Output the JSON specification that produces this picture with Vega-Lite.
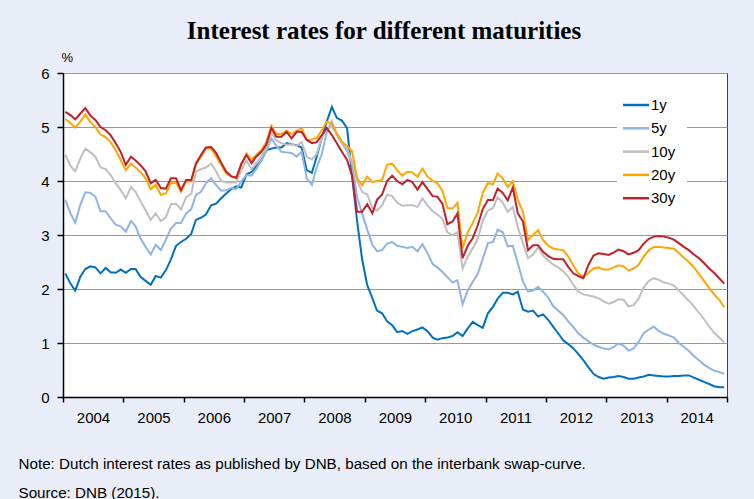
{
"$schema":"https://vega.github.io/schema/vega-lite/v6.json",
"width":664,"height":324,
"autosize":{"type":"none"},
"padding":{"left":63,"top":73,"right":27,"bottom":102},
"background":"#E9EDF8",
"config":{"view":{"fill":"white","stroke":"#404040","strokeWidth":1},"font":"Liberation Sans"},
"title":{"text":"Interest rates for different maturities","font":"Liberation Serif","fontSize":25,"fontWeight":"bold","color":"black","anchor":"middle","dx":-11,"dy":21,"offset":8,"baseline":"alphabetic"},
"data":{"values":[
{"t":"2004-01-15","s":"1y","v":2.29},{"t":"2004-02-15","s":"1y","v":2.10},{"t":"2004-03-15","s":"1y","v":1.97},{"t":"2004-04-15","s":"1y","v":2.23},{"t":"2004-05-15","s":"1y","v":2.37},{"t":"2004-06-15","s":"1y","v":2.42},{"t":"2004-07-15","s":"1y","v":2.40},{"t":"2004-08-15","s":"1y","v":2.29},{"t":"2004-09-15","s":"1y","v":2.39},{"t":"2004-10-15","s":"1y","v":2.31},{"t":"2004-11-15","s":"1y","v":2.30},{"t":"2004-12-15","s":"1y","v":2.36},
{"t":"2005-01-15","s":"1y","v":2.30},{"t":"2005-02-15","s":"1y","v":2.37},{"t":"2005-03-15","s":"1y","v":2.37},{"t":"2005-04-15","s":"1y","v":2.22},{"t":"2005-05-15","s":"1y","v":2.15},{"t":"2005-06-15","s":"1y","v":2.08},{"t":"2005-07-15","s":"1y","v":2.24},{"t":"2005-08-15","s":"1y","v":2.21},{"t":"2005-09-15","s":"1y","v":2.35},{"t":"2005-10-15","s":"1y","v":2.55},{"t":"2005-11-15","s":"1y","v":2.80},{"t":"2005-12-15","s":"1y","v":2.87},
{"t":"2006-01-15","s":"1y","v":2.93},{"t":"2006-02-15","s":"1y","v":3.02},{"t":"2006-03-15","s":"1y","v":3.28},{"t":"2006-04-15","s":"1y","v":3.32},{"t":"2006-05-15","s":"1y","v":3.38},{"t":"2006-06-15","s":"1y","v":3.55},{"t":"2006-07-15","s":"1y","v":3.58},{"t":"2006-08-15","s":"1y","v":3.68},{"t":"2006-09-15","s":"1y","v":3.77},{"t":"2006-10-15","s":"1y","v":3.85},{"t":"2006-11-15","s":"1y","v":3.90},{"t":"2006-12-15","s":"1y","v":3.88},
{"t":"2007-01-15","s":"1y","v":4.12},{"t":"2007-02-15","s":"1y","v":4.17},{"t":"2007-03-15","s":"1y","v":4.27},{"t":"2007-04-15","s":"1y","v":4.38},{"t":"2007-05-15","s":"1y","v":4.57},{"t":"2007-06-15","s":"1y","v":4.60},{"t":"2007-07-15","s":"1y","v":4.62},{"t":"2007-08-15","s":"1y","v":4.62},{"t":"2007-09-15","s":"1y","v":4.70},{"t":"2007-10-15","s":"1y","v":4.68},{"t":"2007-11-15","s":"1y","v":4.66},{"t":"2007-12-15","s":"1y","v":4.62},
{"t":"2008-01-15","s":"1y","v":4.20},{"t":"2008-02-15","s":"1y","v":4.15},{"t":"2008-03-15","s":"1y","v":4.45},{"t":"2008-04-15","s":"1y","v":4.80},{"t":"2008-05-15","s":"1y","v":5.10},{"t":"2008-06-15","s":"1y","v":5.37},{"t":"2008-07-15","s":"1y","v":5.17},{"t":"2008-08-15","s":"1y","v":5.12},{"t":"2008-09-15","s":"1y","v":4.98},{"t":"2008-10-15","s":"1y","v":4.10},{"t":"2008-11-15","s":"1y","v":3.25},{"t":"2008-12-15","s":"1y","v":2.55},
{"t":"2009-01-15","s":"1y","v":2.07},{"t":"2009-02-15","s":"1y","v":1.83},{"t":"2009-03-15","s":"1y","v":1.60},{"t":"2009-04-15","s":"1y","v":1.55},{"t":"2009-05-15","s":"1y","v":1.40},{"t":"2009-06-15","s":"1y","v":1.33},{"t":"2009-07-15","s":"1y","v":1.20},{"t":"2009-08-15","s":"1y","v":1.22},{"t":"2009-09-15","s":"1y","v":1.17},{"t":"2009-10-15","s":"1y","v":1.22},{"t":"2009-11-15","s":"1y","v":1.25},{"t":"2009-12-15","s":"1y","v":1.29},
{"t":"2010-01-15","s":"1y","v":1.22},{"t":"2010-02-15","s":"1y","v":1.10},{"t":"2010-03-15","s":"1y","v":1.06},{"t":"2010-04-15","s":"1y","v":1.09},{"t":"2010-05-15","s":"1y","v":1.10},{"t":"2010-06-15","s":"1y","v":1.13},{"t":"2010-07-15","s":"1y","v":1.20},{"t":"2010-08-15","s":"1y","v":1.13},{"t":"2010-09-15","s":"1y","v":1.27},{"t":"2010-10-15","s":"1y","v":1.39},{"t":"2010-11-15","s":"1y","v":1.33},{"t":"2010-12-15","s":"1y","v":1.28},
{"t":"2011-01-15","s":"1y","v":1.55},{"t":"2011-02-15","s":"1y","v":1.67},{"t":"2011-03-15","s":"1y","v":1.82},{"t":"2011-04-15","s":"1y","v":1.93},{"t":"2011-05-15","s":"1y","v":1.93},{"t":"2011-06-15","s":"1y","v":1.90},{"t":"2011-07-15","s":"1y","v":1.95},{"t":"2011-08-15","s":"1y","v":1.62},{"t":"2011-09-15","s":"1y","v":1.58},{"t":"2011-10-15","s":"1y","v":1.60},{"t":"2011-11-15","s":"1y","v":1.49},{"t":"2011-12-15","s":"1y","v":1.53},
{"t":"2012-01-15","s":"1y","v":1.43},{"t":"2012-02-15","s":"1y","v":1.30},{"t":"2012-03-15","s":"1y","v":1.18},{"t":"2012-04-15","s":"1y","v":1.05},{"t":"2012-05-15","s":"1y","v":0.98},{"t":"2012-06-15","s":"1y","v":0.90},{"t":"2012-07-15","s":"1y","v":0.80},{"t":"2012-08-15","s":"1y","v":0.68},{"t":"2012-09-15","s":"1y","v":0.55},{"t":"2012-10-15","s":"1y","v":0.43},{"t":"2012-11-15","s":"1y","v":0.37},{"t":"2012-12-15","s":"1y","v":0.34},
{"t":"2013-01-15","s":"1y","v":0.36},{"t":"2013-02-15","s":"1y","v":0.37},{"t":"2013-03-15","s":"1y","v":0.39},{"t":"2013-04-15","s":"1y","v":0.37},{"t":"2013-05-15","s":"1y","v":0.34},{"t":"2013-06-15","s":"1y","v":0.34},{"t":"2013-07-15","s":"1y","v":0.36},{"t":"2013-08-15","s":"1y","v":0.38},{"t":"2013-09-15","s":"1y","v":0.41},{"t":"2013-10-15","s":"1y","v":0.40},{"t":"2013-11-15","s":"1y","v":0.39},{"t":"2013-12-15","s":"1y","v":0.38},
{"t":"2014-01-15","s":"1y","v":0.38},{"t":"2014-02-15","s":"1y","v":0.39},{"t":"2014-03-15","s":"1y","v":0.39},{"t":"2014-04-15","s":"1y","v":0.40},{"t":"2014-05-15","s":"1y","v":0.40},{"t":"2014-06-15","s":"1y","v":0.36},{"t":"2014-07-15","s":"1y","v":0.32},{"t":"2014-08-15","s":"1y","v":0.28},{"t":"2014-09-15","s":"1y","v":0.24},{"t":"2014-10-15","s":"1y","v":0.20},{"t":"2014-11-15","s":"1y","v":0.18},{"t":"2014-12-15","s":"1y","v":0.18},
{"t":"2004-01-15","s":"5y","v":3.65},{"t":"2004-02-15","s":"5y","v":3.40},{"t":"2004-03-15","s":"5y","v":3.23},{"t":"2004-04-15","s":"5y","v":3.56},{"t":"2004-05-15","s":"5y","v":3.79},{"t":"2004-06-15","s":"5y","v":3.78},{"t":"2004-07-15","s":"5y","v":3.71},{"t":"2004-08-15","s":"5y","v":3.44},{"t":"2004-09-15","s":"5y","v":3.44},{"t":"2004-10-15","s":"5y","v":3.31},{"t":"2004-11-15","s":"5y","v":3.19},{"t":"2004-12-15","s":"5y","v":3.16},
{"t":"2005-01-15","s":"5y","v":3.06},{"t":"2005-02-15","s":"5y","v":3.26},{"t":"2005-03-15","s":"5y","v":3.16},{"t":"2005-04-15","s":"5y","v":2.93},{"t":"2005-05-15","s":"5y","v":2.78},{"t":"2005-06-15","s":"5y","v":2.64},{"t":"2005-07-15","s":"5y","v":2.82},{"t":"2005-08-15","s":"5y","v":2.72},{"t":"2005-09-15","s":"5y","v":2.92},{"t":"2005-10-15","s":"5y","v":3.12},{"t":"2005-11-15","s":"5y","v":3.22},{"t":"2005-12-15","s":"5y","v":3.22},
{"t":"2006-01-15","s":"5y","v":3.40},{"t":"2006-02-15","s":"5y","v":3.48},{"t":"2006-03-15","s":"5y","v":3.74},{"t":"2006-04-15","s":"5y","v":3.80},{"t":"2006-05-15","s":"5y","v":3.96},{"t":"2006-06-15","s":"5y","v":4.05},{"t":"2006-07-15","s":"5y","v":3.93},{"t":"2006-08-15","s":"5y","v":3.82},{"t":"2006-09-15","s":"5y","v":3.83},{"t":"2006-10-15","s":"5y","v":3.87},{"t":"2006-11-15","s":"5y","v":3.85},{"t":"2006-12-15","s":"5y","v":4.00},
{"t":"2007-01-15","s":"5y","v":4.11},{"t":"2007-02-15","s":"5y","v":4.10},{"t":"2007-03-15","s":"5y","v":4.22},{"t":"2007-04-15","s":"5y","v":4.38},{"t":"2007-05-15","s":"5y","v":4.55},{"t":"2007-06-15","s":"5y","v":4.79},{"t":"2007-07-15","s":"5y","v":4.65},{"t":"2007-08-15","s":"5y","v":4.54},{"t":"2007-09-15","s":"5y","v":4.53},{"t":"2007-10-15","s":"5y","v":4.52},{"t":"2007-11-15","s":"5y","v":4.45},{"t":"2007-12-15","s":"5y","v":4.54},
{"t":"2008-01-15","s":"5y","v":4.05},{"t":"2008-02-15","s":"5y","v":3.93},{"t":"2008-03-15","s":"5y","v":4.25},{"t":"2008-04-15","s":"5y","v":4.50},{"t":"2008-05-15","s":"5y","v":4.90},{"t":"2008-06-15","s":"5y","v":5.10},{"t":"2008-07-15","s":"5y","v":4.85},{"t":"2008-08-15","s":"5y","v":4.70},{"t":"2008-09-15","s":"5y","v":4.55},{"t":"2008-10-15","s":"5y","v":4.30},{"t":"2008-11-15","s":"5y","v":3.70},{"t":"2008-12-15","s":"5y","v":3.40},
{"t":"2009-01-15","s":"5y","v":3.10},{"t":"2009-02-15","s":"5y","v":2.82},{"t":"2009-03-15","s":"5y","v":2.70},{"t":"2009-04-15","s":"5y","v":2.72},{"t":"2009-05-15","s":"5y","v":2.84},{"t":"2009-06-15","s":"5y","v":2.87},{"t":"2009-07-15","s":"5y","v":2.80},{"t":"2009-08-15","s":"5y","v":2.78},{"t":"2009-09-15","s":"5y","v":2.76},{"t":"2009-10-15","s":"5y","v":2.78},{"t":"2009-11-15","s":"5y","v":2.70},{"t":"2009-12-15","s":"5y","v":2.83},
{"t":"2010-01-15","s":"5y","v":2.66},{"t":"2010-02-15","s":"5y","v":2.46},{"t":"2010-03-15","s":"5y","v":2.40},{"t":"2010-04-15","s":"5y","v":2.32},{"t":"2010-05-15","s":"5y","v":2.22},{"t":"2010-06-15","s":"5y","v":2.12},{"t":"2010-07-15","s":"5y","v":2.16},{"t":"2010-08-15","s":"5y","v":1.72},{"t":"2010-09-15","s":"5y","v":1.97},{"t":"2010-10-15","s":"5y","v":2.13},{"t":"2010-11-15","s":"5y","v":2.28},{"t":"2010-12-15","s":"5y","v":2.56},
{"t":"2011-01-15","s":"5y","v":2.85},{"t":"2011-02-15","s":"5y","v":2.87},{"t":"2011-03-15","s":"5y","v":3.10},{"t":"2011-04-15","s":"5y","v":3.05},{"t":"2011-05-15","s":"5y","v":2.79},{"t":"2011-06-15","s":"5y","v":2.80},{"t":"2011-07-15","s":"5y","v":2.48},{"t":"2011-08-15","s":"5y","v":2.14},{"t":"2011-09-15","s":"5y","v":1.95},{"t":"2011-10-15","s":"5y","v":1.97},{"t":"2011-11-15","s":"5y","v":2.04},{"t":"2011-12-15","s":"5y","v":1.95},
{"t":"2012-01-15","s":"5y","v":1.84},{"t":"2012-02-15","s":"5y","v":1.68},{"t":"2012-03-15","s":"5y","v":1.60},{"t":"2012-04-15","s":"5y","v":1.52},{"t":"2012-05-15","s":"5y","v":1.40},{"t":"2012-06-15","s":"5y","v":1.30},{"t":"2012-07-15","s":"5y","v":1.18},{"t":"2012-08-15","s":"5y","v":1.10},{"t":"2012-09-15","s":"5y","v":1.03},{"t":"2012-10-15","s":"5y","v":0.97},{"t":"2012-11-15","s":"5y","v":0.93},{"t":"2012-12-15","s":"5y","v":0.90},
{"t":"2013-01-15","s":"5y","v":0.88},{"t":"2013-02-15","s":"5y","v":0.93},{"t":"2013-03-15","s":"5y","v":0.99},{"t":"2013-04-15","s":"5y","v":0.95},{"t":"2013-05-15","s":"5y","v":0.86},{"t":"2013-06-15","s":"5y","v":0.90},{"t":"2013-07-15","s":"5y","v":1.02},{"t":"2013-08-15","s":"5y","v":1.18},{"t":"2013-09-15","s":"5y","v":1.25},{"t":"2013-10-15","s":"5y","v":1.30},{"t":"2013-11-15","s":"5y","v":1.22},{"t":"2013-12-15","s":"5y","v":1.17},
{"t":"2014-01-15","s":"5y","v":1.14},{"t":"2014-02-15","s":"5y","v":1.10},{"t":"2014-03-15","s":"5y","v":1.00},{"t":"2014-04-15","s":"5y","v":0.93},{"t":"2014-05-15","s":"5y","v":0.85},{"t":"2014-06-15","s":"5y","v":0.76},{"t":"2014-07-15","s":"5y","v":0.68},{"t":"2014-08-15","s":"5y","v":0.60},{"t":"2014-09-15","s":"5y","v":0.54},{"t":"2014-10-15","s":"5y","v":0.49},{"t":"2014-11-15","s":"5y","v":0.46},{"t":"2014-12-15","s":"5y","v":0.43},
{"t":"2004-01-15","s":"10y","v":4.49},{"t":"2004-02-15","s":"10y","v":4.28},{"t":"2004-03-15","s":"10y","v":4.18},{"t":"2004-04-15","s":"10y","v":4.42},{"t":"2004-05-15","s":"10y","v":4.60},{"t":"2004-06-15","s":"10y","v":4.53},{"t":"2004-07-15","s":"10y","v":4.45},{"t":"2004-08-15","s":"10y","v":4.25},{"t":"2004-09-15","s":"10y","v":4.22},{"t":"2004-10-15","s":"10y","v":4.11},{"t":"2004-11-15","s":"10y","v":3.96},{"t":"2004-12-15","s":"10y","v":3.83},
{"t":"2005-01-15","s":"10y","v":3.68},{"t":"2005-02-15","s":"10y","v":3.89},{"t":"2005-03-15","s":"10y","v":3.80},{"t":"2005-04-15","s":"10y","v":3.62},{"t":"2005-05-15","s":"10y","v":3.46},{"t":"2005-06-15","s":"10y","v":3.28},{"t":"2005-07-15","s":"10y","v":3.40},{"t":"2005-08-15","s":"10y","v":3.26},{"t":"2005-09-15","s":"10y","v":3.33},{"t":"2005-10-15","s":"10y","v":3.57},{"t":"2005-11-15","s":"10y","v":3.58},{"t":"2005-12-15","s":"10y","v":3.47},
{"t":"2006-01-15","s":"10y","v":3.70},{"t":"2006-02-15","s":"10y","v":3.76},{"t":"2006-03-15","s":"10y","v":4.17},{"t":"2006-04-15","s":"10y","v":4.22},{"t":"2006-05-15","s":"10y","v":4.25},{"t":"2006-06-15","s":"10y","v":4.32},{"t":"2006-07-15","s":"10y","v":4.18},{"t":"2006-08-15","s":"10y","v":4.00},{"t":"2006-09-15","s":"10y","v":3.97},{"t":"2006-10-15","s":"10y","v":3.97},{"t":"2006-11-15","s":"10y","v":3.97},{"t":"2006-12-15","s":"10y","v":4.20},
{"t":"2007-01-15","s":"10y","v":4.38},{"t":"2007-02-15","s":"10y","v":4.22},{"t":"2007-03-15","s":"10y","v":4.33},{"t":"2007-04-15","s":"10y","v":4.45},{"t":"2007-05-15","s":"10y","v":4.62},{"t":"2007-06-15","s":"10y","v":4.90},{"t":"2007-07-15","s":"10y","v":4.75},{"t":"2007-08-15","s":"10y","v":4.70},{"t":"2007-09-15","s":"10y","v":4.67},{"t":"2007-10-15","s":"10y","v":4.68},{"t":"2007-11-15","s":"10y","v":4.65},{"t":"2007-12-15","s":"10y","v":4.72},
{"t":"2008-01-15","s":"10y","v":4.45},{"t":"2008-02-15","s":"10y","v":4.40},{"t":"2008-03-15","s":"10y","v":4.50},{"t":"2008-04-15","s":"10y","v":4.80},{"t":"2008-05-15","s":"10y","v":4.98},{"t":"2008-06-15","s":"10y","v":5.00},{"t":"2008-07-15","s":"10y","v":4.86},{"t":"2008-08-15","s":"10y","v":4.72},{"t":"2008-09-15","s":"10y","v":4.60},{"t":"2008-10-15","s":"10y","v":4.35},{"t":"2008-11-15","s":"10y","v":4.00},{"t":"2008-12-15","s":"10y","v":3.80},
{"t":"2009-01-15","s":"10y","v":3.75},{"t":"2009-02-15","s":"10y","v":3.50},{"t":"2009-03-15","s":"10y","v":3.45},{"t":"2009-04-15","s":"10y","v":3.55},{"t":"2009-05-15","s":"10y","v":3.75},{"t":"2009-06-15","s":"10y","v":3.72},{"t":"2009-07-15","s":"10y","v":3.60},{"t":"2009-08-15","s":"10y","v":3.54},{"t":"2009-09-15","s":"10y","v":3.55},{"t":"2009-10-15","s":"10y","v":3.55},{"t":"2009-11-15","s":"10y","v":3.52},{"t":"2009-12-15","s":"10y","v":3.68},
{"t":"2010-01-15","s":"10y","v":3.55},{"t":"2010-02-15","s":"10y","v":3.44},{"t":"2010-03-15","s":"10y","v":3.38},{"t":"2010-04-15","s":"10y","v":3.30},{"t":"2010-05-15","s":"10y","v":3.05},{"t":"2010-06-15","s":"10y","v":3.00},{"t":"2010-07-15","s":"10y","v":3.05},{"t":"2010-08-15","s":"10y","v":2.38},{"t":"2010-09-15","s":"10y","v":2.60},{"t":"2010-10-15","s":"10y","v":2.75},{"t":"2010-11-15","s":"10y","v":2.93},{"t":"2010-12-15","s":"10y","v":3.27},
{"t":"2011-01-15","s":"10y","v":3.45},{"t":"2011-02-15","s":"10y","v":3.50},{"t":"2011-03-15","s":"10y","v":3.70},{"t":"2011-04-15","s":"10y","v":3.60},{"t":"2011-05-15","s":"10y","v":3.43},{"t":"2011-06-15","s":"10y","v":3.52},{"t":"2011-07-15","s":"10y","v":3.15},{"t":"2011-08-15","s":"10y","v":2.85},{"t":"2011-09-15","s":"10y","v":2.57},{"t":"2011-10-15","s":"10y","v":2.64},{"t":"2011-11-15","s":"10y","v":2.77},{"t":"2011-12-15","s":"10y","v":2.62},
{"t":"2012-01-15","s":"10y","v":2.53},{"t":"2012-02-15","s":"10y","v":2.45},{"t":"2012-03-15","s":"10y","v":2.40},{"t":"2012-04-15","s":"10y","v":2.33},{"t":"2012-05-15","s":"10y","v":2.23},{"t":"2012-06-15","s":"10y","v":2.08},{"t":"2012-07-15","s":"10y","v":1.95},{"t":"2012-08-15","s":"10y","v":1.90},{"t":"2012-09-15","s":"10y","v":1.88},{"t":"2012-10-15","s":"10y","v":1.86},{"t":"2012-11-15","s":"10y","v":1.83},{"t":"2012-12-15","s":"10y","v":1.77},
{"t":"2013-01-15","s":"10y","v":1.73},{"t":"2013-02-15","s":"10y","v":1.76},{"t":"2013-03-15","s":"10y","v":1.81},{"t":"2013-04-15","s":"10y","v":1.80},{"t":"2013-05-15","s":"10y","v":1.68},{"t":"2013-06-15","s":"10y","v":1.70},{"t":"2013-07-15","s":"10y","v":1.82},{"t":"2013-08-15","s":"10y","v":2.03},{"t":"2013-09-15","s":"10y","v":2.15},{"t":"2013-10-15","s":"10y","v":2.20},{"t":"2013-11-15","s":"10y","v":2.17},{"t":"2013-12-15","s":"10y","v":2.12},
{"t":"2014-01-15","s":"10y","v":2.10},{"t":"2014-02-15","s":"10y","v":2.06},{"t":"2014-03-15","s":"10y","v":1.97},{"t":"2014-04-15","s":"10y","v":1.88},{"t":"2014-05-15","s":"10y","v":1.78},{"t":"2014-06-15","s":"10y","v":1.68},{"t":"2014-07-15","s":"10y","v":1.56},{"t":"2014-08-15","s":"10y","v":1.44},{"t":"2014-09-15","s":"10y","v":1.31},{"t":"2014-10-15","s":"10y","v":1.19},{"t":"2014-11-15","s":"10y","v":1.10},{"t":"2014-12-15","s":"10y","v":1.01},
{"t":"2004-01-15","s":"20y","v":5.15},{"t":"2004-02-15","s":"20y","v":5.07},{"t":"2004-03-15","s":"20y","v":4.99},{"t":"2004-04-15","s":"20y","v":5.10},{"t":"2004-05-15","s":"20y","v":5.23},{"t":"2004-06-15","s":"20y","v":5.09},{"t":"2004-07-15","s":"20y","v":5.00},{"t":"2004-08-15","s":"20y","v":4.86},{"t":"2004-09-15","s":"20y","v":4.81},{"t":"2004-10-15","s":"20y","v":4.72},{"t":"2004-11-15","s":"20y","v":4.57},{"t":"2004-12-15","s":"20y","v":4.39},
{"t":"2005-01-15","s":"20y","v":4.20},{"t":"2005-02-15","s":"20y","v":4.32},{"t":"2005-03-15","s":"20y","v":4.25},{"t":"2005-04-15","s":"20y","v":4.16},{"t":"2005-05-15","s":"20y","v":4.05},{"t":"2005-06-15","s":"20y","v":3.85},{"t":"2005-07-15","s":"20y","v":3.93},{"t":"2005-08-15","s":"20y","v":3.74},{"t":"2005-09-15","s":"20y","v":3.77},{"t":"2005-10-15","s":"20y","v":3.96},{"t":"2005-11-15","s":"20y","v":3.97},{"t":"2005-12-15","s":"20y","v":3.80},
{"t":"2006-01-15","s":"20y","v":3.99},{"t":"2006-02-15","s":"20y","v":3.99},{"t":"2006-03-15","s":"20y","v":4.30},{"t":"2006-04-15","s":"20y","v":4.45},{"t":"2006-05-15","s":"20y","v":4.60},{"t":"2006-06-15","s":"20y","v":4.60},{"t":"2006-07-15","s":"20y","v":4.46},{"t":"2006-08-15","s":"20y","v":4.30},{"t":"2006-09-15","s":"20y","v":4.14},{"t":"2006-10-15","s":"20y","v":4.08},{"t":"2006-11-15","s":"20y","v":4.05},{"t":"2006-12-15","s":"20y","v":4.30},
{"t":"2007-01-15","s":"20y","v":4.51},{"t":"2007-02-15","s":"20y","v":4.39},{"t":"2007-03-15","s":"20y","v":4.48},{"t":"2007-04-15","s":"20y","v":4.57},{"t":"2007-05-15","s":"20y","v":4.72},{"t":"2007-06-15","s":"20y","v":5.02},{"t":"2007-07-15","s":"20y","v":4.87},{"t":"2007-08-15","s":"20y","v":4.87},{"t":"2007-09-15","s":"20y","v":4.93},{"t":"2007-10-15","s":"20y","v":4.87},{"t":"2007-11-15","s":"20y","v":4.93},{"t":"2007-12-15","s":"20y","v":4.98},
{"t":"2008-01-15","s":"20y","v":4.76},{"t":"2008-02-15","s":"20y","v":4.77},{"t":"2008-03-15","s":"20y","v":4.80},{"t":"2008-04-15","s":"20y","v":4.94},{"t":"2008-05-15","s":"20y","v":5.10},{"t":"2008-06-15","s":"20y","v":5.06},{"t":"2008-07-15","s":"20y","v":4.88},{"t":"2008-08-15","s":"20y","v":4.72},{"t":"2008-09-15","s":"20y","v":4.65},{"t":"2008-10-15","s":"20y","v":4.55},{"t":"2008-11-15","s":"20y","v":4.05},{"t":"2008-12-15","s":"20y","v":3.92},
{"t":"2009-01-15","s":"20y","v":4.08},{"t":"2009-02-15","s":"20y","v":3.98},{"t":"2009-03-15","s":"20y","v":4.00},{"t":"2009-04-15","s":"20y","v":4.02},{"t":"2009-05-15","s":"20y","v":4.30},{"t":"2009-06-15","s":"20y","v":4.32},{"t":"2009-07-15","s":"20y","v":4.20},{"t":"2009-08-15","s":"20y","v":4.10},{"t":"2009-09-15","s":"20y","v":4.17},{"t":"2009-10-15","s":"20y","v":4.16},{"t":"2009-11-15","s":"20y","v":4.08},{"t":"2009-12-15","s":"20y","v":4.23},
{"t":"2010-01-15","s":"20y","v":4.08},{"t":"2010-02-15","s":"20y","v":4.00},{"t":"2010-03-15","s":"20y","v":3.96},{"t":"2010-04-15","s":"20y","v":3.82},{"t":"2010-05-15","s":"20y","v":3.50},{"t":"2010-06-15","s":"20y","v":3.49},{"t":"2010-07-15","s":"20y","v":3.60},{"t":"2010-08-15","s":"20y","v":2.75},{"t":"2010-09-15","s":"20y","v":3.05},{"t":"2010-10-15","s":"20y","v":3.22},{"t":"2010-11-15","s":"20y","v":3.42},{"t":"2010-12-15","s":"20y","v":3.78},
{"t":"2011-01-15","s":"20y","v":3.96},{"t":"2011-02-15","s":"20y","v":3.94},{"t":"2011-03-15","s":"20y","v":4.14},{"t":"2011-04-15","s":"20y","v":4.05},{"t":"2011-05-15","s":"20y","v":3.89},{"t":"2011-06-15","s":"20y","v":4.00},{"t":"2011-07-15","s":"20y","v":3.65},{"t":"2011-08-15","s":"20y","v":3.43},{"t":"2011-09-15","s":"20y","v":2.91},{"t":"2011-10-15","s":"20y","v":3.00},{"t":"2011-11-15","s":"20y","v":3.09},{"t":"2011-12-15","s":"20y","v":2.91},
{"t":"2012-01-15","s":"20y","v":2.80},{"t":"2012-02-15","s":"20y","v":2.75},{"t":"2012-03-15","s":"20y","v":2.73},{"t":"2012-04-15","s":"20y","v":2.72},{"t":"2012-05-15","s":"20y","v":2.60},{"t":"2012-06-15","s":"20y","v":2.44},{"t":"2012-07-15","s":"20y","v":2.29},{"t":"2012-08-15","s":"20y","v":2.22},{"t":"2012-09-15","s":"20y","v":2.30},{"t":"2012-10-15","s":"20y","v":2.38},{"t":"2012-11-15","s":"20y","v":2.40},{"t":"2012-12-15","s":"20y","v":2.36},
{"t":"2013-01-15","s":"20y","v":2.36},{"t":"2013-02-15","s":"20y","v":2.40},{"t":"2013-03-15","s":"20y","v":2.44},{"t":"2013-04-15","s":"20y","v":2.42},{"t":"2013-05-15","s":"20y","v":2.34},{"t":"2013-06-15","s":"20y","v":2.38},{"t":"2013-07-15","s":"20y","v":2.45},{"t":"2013-08-15","s":"20y","v":2.60},{"t":"2013-09-15","s":"20y","v":2.72},{"t":"2013-10-15","s":"20y","v":2.78},{"t":"2013-11-15","s":"20y","v":2.78},{"t":"2013-12-15","s":"20y","v":2.77},
{"t":"2014-01-15","s":"20y","v":2.76},{"t":"2014-02-15","s":"20y","v":2.74},{"t":"2014-03-15","s":"20y","v":2.67},{"t":"2014-04-15","s":"20y","v":2.58},{"t":"2014-05-15","s":"20y","v":2.50},{"t":"2014-06-15","s":"20y","v":2.40},{"t":"2014-07-15","s":"20y","v":2.28},{"t":"2014-08-15","s":"20y","v":2.15},{"t":"2014-09-15","s":"20y","v":2.02},{"t":"2014-10-15","s":"20y","v":1.90},{"t":"2014-11-15","s":"20y","v":1.80},{"t":"2014-12-15","s":"20y","v":1.66},
{"t":"2004-01-15","s":"30y","v":5.28},{"t":"2004-02-15","s":"30y","v":5.22},{"t":"2004-03-15","s":"30y","v":5.14},{"t":"2004-04-15","s":"30y","v":5.25},{"t":"2004-05-15","s":"30y","v":5.35},{"t":"2004-06-15","s":"30y","v":5.21},{"t":"2004-07-15","s":"30y","v":5.13},{"t":"2004-08-15","s":"30y","v":5.00},{"t":"2004-09-15","s":"30y","v":4.94},{"t":"2004-10-15","s":"30y","v":4.85},{"t":"2004-11-15","s":"30y","v":4.70},{"t":"2004-12-15","s":"30y","v":4.54},
{"t":"2005-01-15","s":"30y","v":4.30},{"t":"2005-02-15","s":"30y","v":4.45},{"t":"2005-03-15","s":"30y","v":4.38},{"t":"2005-04-15","s":"30y","v":4.29},{"t":"2005-05-15","s":"30y","v":4.18},{"t":"2005-06-15","s":"30y","v":3.96},{"t":"2005-07-15","s":"30y","v":4.02},{"t":"2005-08-15","s":"30y","v":3.87},{"t":"2005-09-15","s":"30y","v":3.86},{"t":"2005-10-15","s":"30y","v":4.05},{"t":"2005-11-15","s":"30y","v":4.05},{"t":"2005-12-15","s":"30y","v":3.83},
{"t":"2006-01-15","s":"30y","v":4.02},{"t":"2006-02-15","s":"30y","v":4.02},{"t":"2006-03-15","s":"30y","v":4.32},{"t":"2006-04-15","s":"30y","v":4.48},{"t":"2006-05-15","s":"30y","v":4.62},{"t":"2006-06-15","s":"30y","v":4.63},{"t":"2006-07-15","s":"30y","v":4.52},{"t":"2006-08-15","s":"30y","v":4.34},{"t":"2006-09-15","s":"30y","v":4.17},{"t":"2006-10-15","s":"30y","v":4.09},{"t":"2006-11-15","s":"30y","v":4.06},{"t":"2006-12-15","s":"30y","v":4.32},
{"t":"2007-01-15","s":"30y","v":4.48},{"t":"2007-02-15","s":"30y","v":4.33},{"t":"2007-03-15","s":"30y","v":4.45},{"t":"2007-04-15","s":"30y","v":4.54},{"t":"2007-05-15","s":"30y","v":4.67},{"t":"2007-06-15","s":"30y","v":4.98},{"t":"2007-07-15","s":"30y","v":4.82},{"t":"2007-08-15","s":"30y","v":4.82},{"t":"2007-09-15","s":"30y","v":4.91},{"t":"2007-10-15","s":"30y","v":4.79},{"t":"2007-11-15","s":"30y","v":4.91},{"t":"2007-12-15","s":"30y","v":4.91},
{"t":"2008-01-15","s":"30y","v":4.76},{"t":"2008-02-15","s":"30y","v":4.70},{"t":"2008-03-15","s":"30y","v":4.72},{"t":"2008-04-15","s":"30y","v":4.85},{"t":"2008-05-15","s":"30y","v":4.98},{"t":"2008-06-15","s":"30y","v":4.85},{"t":"2008-07-15","s":"30y","v":4.70},{"t":"2008-08-15","s":"30y","v":4.54},{"t":"2008-09-15","s":"30y","v":4.39},{"t":"2008-10-15","s":"30y","v":4.10},{"t":"2008-11-15","s":"30y","v":3.43},{"t":"2008-12-15","s":"30y","v":3.43},
{"t":"2009-01-15","s":"30y","v":3.57},{"t":"2009-02-15","s":"30y","v":3.40},{"t":"2009-03-15","s":"30y","v":3.65},{"t":"2009-04-15","s":"30y","v":3.75},{"t":"2009-05-15","s":"30y","v":4.00},{"t":"2009-06-15","s":"30y","v":4.10},{"t":"2009-07-15","s":"30y","v":4.00},{"t":"2009-08-15","s":"30y","v":3.94},{"t":"2009-09-15","s":"30y","v":4.02},{"t":"2009-10-15","s":"30y","v":3.98},{"t":"2009-11-15","s":"30y","v":3.84},{"t":"2009-12-15","s":"30y","v":3.98},
{"t":"2010-01-15","s":"30y","v":3.85},{"t":"2010-02-15","s":"30y","v":3.72},{"t":"2010-03-15","s":"30y","v":3.71},{"t":"2010-04-15","s":"30y","v":3.58},{"t":"2010-05-15","s":"30y","v":3.20},{"t":"2010-06-15","s":"30y","v":3.25},{"t":"2010-07-15","s":"30y","v":3.40},{"t":"2010-08-15","s":"30y","v":2.57},{"t":"2010-09-15","s":"30y","v":2.80},{"t":"2010-10-15","s":"30y","v":2.94},{"t":"2010-11-15","s":"30y","v":3.18},{"t":"2010-12-15","s":"30y","v":3.48},
{"t":"2011-01-15","s":"30y","v":3.65},{"t":"2011-02-15","s":"30y","v":3.65},{"t":"2011-03-15","s":"30y","v":3.86},{"t":"2011-04-15","s":"30y","v":3.78},{"t":"2011-05-15","s":"30y","v":3.64},{"t":"2011-06-15","s":"30y","v":3.88},{"t":"2011-07-15","s":"30y","v":3.40},{"t":"2011-08-15","s":"30y","v":3.25},{"t":"2011-09-15","s":"30y","v":2.72},{"t":"2011-10-15","s":"30y","v":2.81},{"t":"2011-11-15","s":"30y","v":2.81},{"t":"2011-12-15","s":"30y","v":2.69},
{"t":"2012-01-15","s":"30y","v":2.61},{"t":"2012-02-15","s":"30y","v":2.56},{"t":"2012-03-15","s":"30y","v":2.55},{"t":"2012-04-15","s":"30y","v":2.55},{"t":"2012-05-15","s":"30y","v":2.41},{"t":"2012-06-15","s":"30y","v":2.29},{"t":"2012-07-15","s":"30y","v":2.24},{"t":"2012-08-15","s":"30y","v":2.20},{"t":"2012-09-15","s":"30y","v":2.45},{"t":"2012-10-15","s":"30y","v":2.62},{"t":"2012-11-15","s":"30y","v":2.66},{"t":"2012-12-15","s":"30y","v":2.65},
{"t":"2013-01-15","s":"30y","v":2.63},{"t":"2013-02-15","s":"30y","v":2.68},{"t":"2013-03-15","s":"30y","v":2.73},{"t":"2013-04-15","s":"30y","v":2.70},{"t":"2013-05-15","s":"30y","v":2.64},{"t":"2013-06-15","s":"30y","v":2.67},{"t":"2013-07-15","s":"30y","v":2.72},{"t":"2013-08-15","s":"30y","v":2.84},{"t":"2013-09-15","s":"30y","v":2.93},{"t":"2013-10-15","s":"30y","v":2.97},{"t":"2013-11-15","s":"30y","v":2.98},{"t":"2013-12-15","s":"30y","v":2.97},
{"t":"2014-01-15","s":"30y","v":2.95},{"t":"2014-02-15","s":"30y","v":2.91},{"t":"2014-03-15","s":"30y","v":2.85},{"t":"2014-04-15","s":"30y","v":2.78},{"t":"2014-05-15","s":"30y","v":2.72},{"t":"2014-06-15","s":"30y","v":2.64},{"t":"2014-07-15","s":"30y","v":2.57},{"t":"2014-08-15","s":"30y","v":2.48},{"t":"2014-09-15","s":"30y","v":2.38},{"t":"2014-10-15","s":"30y","v":2.30},{"t":"2014-11-15","s":"30y","v":2.20},{"t":"2014-12-15","s":"30y","v":2.10}
]},
"mark":{"type":"line","strokeWidth":2},
"encoding":{
"x":{"field":"t","type":"temporal","scale":{"type":"utc","domain":[{"year":2004,"month":1,"date":1,"utc":true},{"year":2015,"month":1,"date":1,"utc":true}]},
"axis":{"values":[{"year":2004,"month":1,"date":1,"utc":true},{"year":2005,"month":1,"date":1,"utc":true},{"year":2006,"month":1,"date":1,"utc":true},{"year":2007,"month":1,"date":1,"utc":true},{"year":2008,"month":1,"date":1,"utc":true},{"year":2009,"month":1,"date":1,"utc":true},{"year":2010,"month":1,"date":1,"utc":true},{"year":2011,"month":1,"date":1,"utc":true},{"year":2012,"month":1,"date":1,"utc":true},{"year":2013,"month":1,"date":1,"utc":true},{"year":2014,"month":1,"date":1,"utc":true},{"year":2015,"month":1,"date":1,"utc":true}],
"labelExpr":"utcyear(datum.value) == 2015 ? '' : utcFormat(datum.value, '%Y')",
"labelOffset":30,"labelFontSize":15,"labelColor":"black","labelPadding":8,"labelBound":false,"labelOverlap":false,"labelFlush":false,
"tickSize":5,"tickColor":"black","tickWidth":1.5,"domainColor":"black","domainWidth":1.5,"grid":false,
"title":["Note: Dutch interest rates as published by DNB, based on the interbank swap-curve.","Source: DNB (2015)."],
"titleAnchor":"start","titleAlign":"left","titleX":-45,"titleY":71,"titleBaseline":"alphabetic","titleFontSize":15.2,"titleFontWeight":"normal","titleColor":"black","titleLineHeight":29,"titleFont":"Liberation Sans"}},
"y":{"field":"v","type":"quantitative","scale":{"domain":[0,6],"nice":false,"zero":false},
"axis":{"values":[0,1,2,3,4,5,6],"format":"d","labelFontSize":15,"labelColor":"black","labelPadding":8,"tickSize":6,"tickColor":"black","tickWidth":1.5,"domainColor":"black","domainWidth":1.5,"grid":true,"gridColor":"#999999","gridWidth":1,
"title":"%","titleAngle":0,"titleAlign":"left","titleBaseline":"alphabetic","titleX":-2,"titleY":-12,"titleFontSize":13,"titleFontWeight":"normal","titleColor":"black"}},
"color":{"field":"s","type":"nominal","scale":{"domain":["1y","5y","10y","20y","30y"],"range":["#0070C0","#8DB4E2","#BFBFBF","#FFA500","#C0202A"]},
"legend":{"orient":"none","legendX":554,"legendY":13,"title":null,"fillColor":"white","padding":11,"labelFontSize":15,"labelColor":"black","labelFont":"Liberation Sans","symbolType":"M-2,0H2","symbolSize":169,"symbolStrokeWidth":2.5,"rowPadding":7.3,"labelOffset":7}}
}
}
